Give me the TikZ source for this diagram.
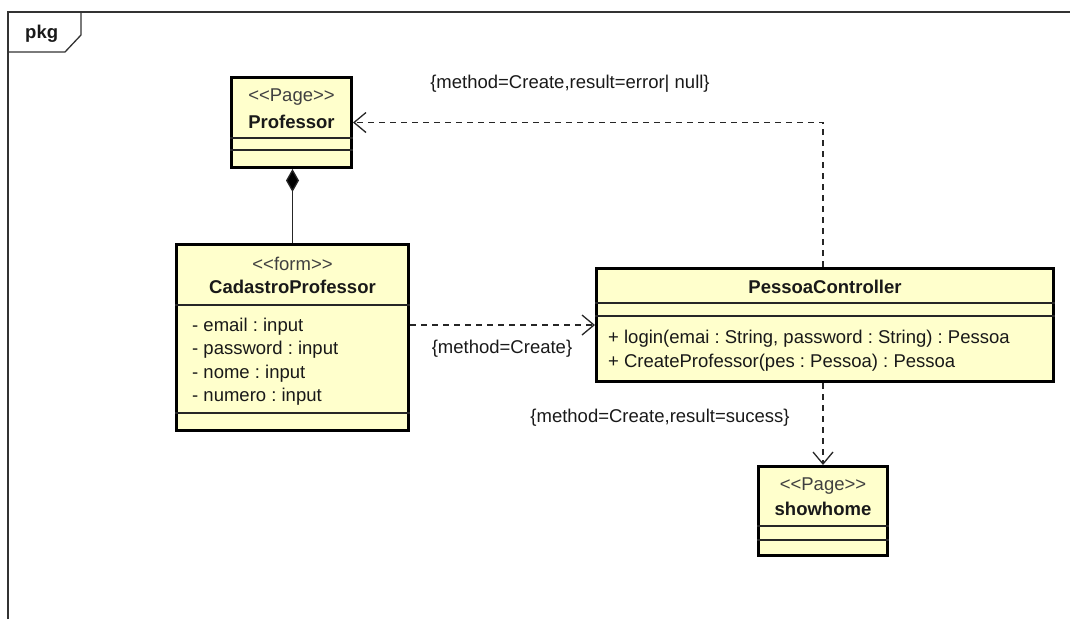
\documentclass[tikz,border=0pt]{standalone}
\usepackage{fontspec}
\setmainfont{Liberation Sans}
\usetikzlibrary{arrows.meta}
\definecolor{clsfill}{HTML}{FFFFCC}
\newcommand\stl{<\kern0pt<}
\newcommand\str{>\kern0pt>}
\frenchspacing
\begin{document}
\begin{tikzpicture}[x=1pt,y=-1pt,
  font=\fontsize{18.5}{23.5}\selectfont\frenchspacing,
  cls/.style={draw=black, fill=clsfill, line width=3pt, inner sep=0pt},
  sep/.style={line width=1.3pt, draw=black!85},
  txt/.style={inner sep=0pt, anchor=base, text=black!90},
  lt/.style={inner sep=0pt, anchor=base west, text=black!90},
  stereo/.style={txt, text=black!75},
  cname/.style={txt, font=\fontsize{18.5}{23.5}\selectfont\bfseries},
  frame/.style={line width=1.3pt, draw=black!80},
  dep/.style={line width=1.3pt, draw=black!85, dash pattern=on 6pt off 5pt,
    -{Straight Barb[length=12pt,width=20pt,line width=1.3pt]}},
  comp/.style={line width=1.3pt, draw=black!85,
    {Diamond[length=23pt,width=13pt,fill=black]}-}
]
\useasboundingbox (0,0) rectangle (1070,619);
% frame
\draw[frame] (8,619) -- (8,12) -- (1070,12);
\draw[frame] (8,52) -- (65,52) -- (81,35) -- (81,12);
\node[lt, font=\fontsize{18.5}{23.5}\selectfont\bfseries] (pkg) at (25,38) {pkg};

% Professor
\node[cls, minimum width=120pt, minimum height=90pt] (prof) at (291.5,122.5) {};
\draw[sep] (prof.west |- 0,138) -- (prof.east |- 0,138);
\draw[sep] (prof.west |- 0,150) -- (prof.east |- 0,150);
\node[stereo] (profst) at (291.5,101) {\stl Page\str};
\node[cname] (profnm) at (291.5,128) {Professor};

% CadastroProfessor
\node[cls, minimum width=232pt, minimum height=186pt] (cad) at (292.5,337.5) {};
\draw[sep] (cad.west |- 0,305) -- (cad.east |- 0,305);
\draw[sep] (cad.west |- 0,413) -- (cad.east |- 0,413);
\node[stereo] (cadst) at (292.5,270) {\stl form\str};
\node[cname] (cadnm) at (292.5,293) {CadastroProfessor};
\node[lt] (a1) at (192,331) {- email : input};
\node[lt] (a2) at (192,354.5) {- password : input};
\node[lt] (a3) at (192,378) {- nome : input};
\node[lt] (a4) at (192,401.5) {- numero : input};

% PessoaController
\node[cls, minimum width=457pt, minimum height=113pt] (pc) at (825,325) {};
\draw[sep] (pc.west |- 0,303) -- (pc.east |- 0,303);
\draw[sep] (pc.west |- 0,316) -- (pc.east |- 0,316);
\node[cname] (pcnm) at (825,293) {PessoaController};
\node[lt] (m1) at (608,343) {+ login(emai : String, password : String) : Pessoa};
\node[lt] (m2) at (608,367) {+ CreateProfessor(pes : Pessoa) : Pessoa};

% showhome
\node[cls, minimum width=129pt, minimum height=89pt] (sh) at (823,511) {};
\draw[sep] (sh.west |- 0,526) -- (sh.east |- 0,526);
\draw[sep] (sh.west |- 0,540) -- (sh.east |- 0,540);
\node[stereo] (shst) at (823,490) {\stl Page\str};
\node[cname] (shnm) at (823,515) {showhome};

% connectors
\draw[comp] (prof.south -| cad.north) -- (cad.north);
\draw[dep] (sh.north |- pc.north) |- (prof.east);
\draw[dep] (cad.east |- pc.west) -- (pc.west);
\draw[dep] (sh.north |- pc.south) -- (sh.north);

% labels
\node[txt] (l1) at (570,88) {\{method=Create,result=error| null\}};
\node[txt] (l2) at (502,353) {\{method=Create\}};
\node[txt] (l3) at (660,422) {\{method=Create,result=sucess\}};
\end{tikzpicture}
\end{document}
